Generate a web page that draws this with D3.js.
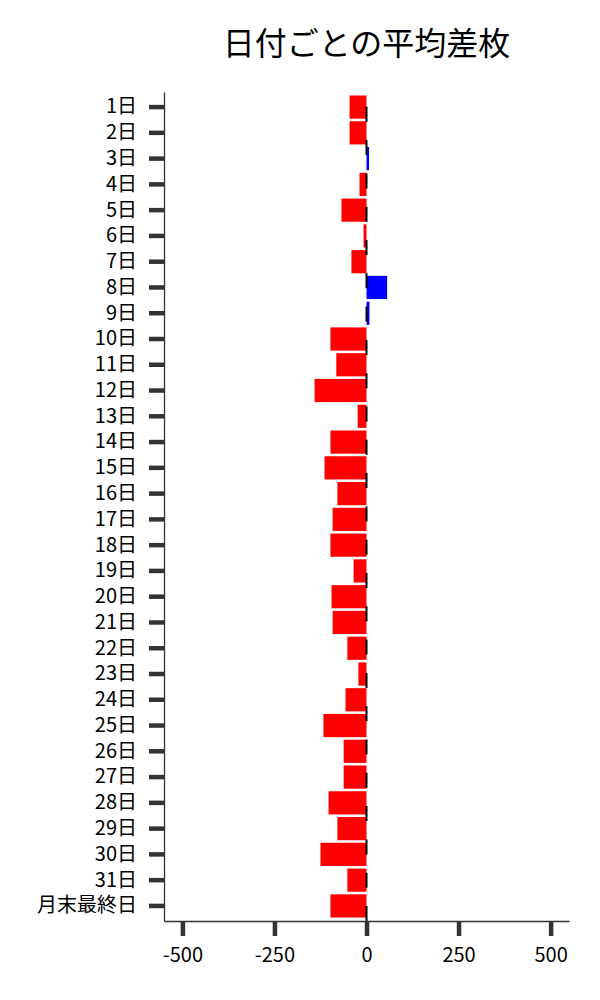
<!DOCTYPE html>
<html>
<head>
<meta charset="utf-8">
<script src="https://cdn.jsdelivr.net/npm/d3@7"></script>
<style>
  body { margin: 0; background: #fff; }
  svg { display: block; font-family: "Noto Sans CJK JP", "Noto Sans", sans-serif; }
</style>
</head>
<body>
<div id="chart"></div>
<script>
const days = ["1日", "2日", "3日", "4日", "5日", "6日", "7日", "8日", "9日", "10日",
  "11日", "12日", "13日", "14日", "15日", "16日", "17日", "18日", "19日", "20日",
  "21日", "22日", "23日", "24日", "25日", "26日", "27日", "28日", "29日", "30日",
  "31日", "月末最終日"];
const avgDiff = [-46, -46, 7, -19, -68, -8, -41, 56, 8, -98,
  -82, -141, -24, -98, -114, -79, -92, -98, -35, -95,
  -92, -52, -22, -57, -117, -62, -62, -103, -79, -125,
  -52, -98];
const xTicks = [-500, -250, 0, 250, 500];
const title = "日付ごとの平均差枚";

const W = 600, H = 1000;
const M = { top: 92, right: 31, bottom: 79, left: 164 };

const svg = d3.select("#chart").append("svg")
  .attr("width", W).attr("height", H);

const x = d3.scaleLinear().domain([-550, 550]).range([M.left, W - M.right]);
const y = d3.scaleBand().domain(days).range([M.top, H - M.bottom])
  .paddingInner(0.1).paddingOuter(0.135);

// bars
svg.append("g").selectAll("rect").data(days).join("rect")
  .attr("x", (d, i) => x(Math.min(0, avgDiff[i])))
  .attr("width", (d, i) => Math.abs(x(avgDiff[i]) - x(0)))
  .attr("y", d => y(d))
  .attr("height", y.bandwidth())
  .attr("fill", (d, i) => avgDiff[i] >= 0 ? "#0000ff" : "#ff0000");

// zero line, dashed, drawn bottom to top
svg.append("path")
  .attr("d", `M${x(0)},${H - M.bottom}V${M.top}`)
  .attr("stroke", "#000").attr("stroke-width", 2)
  .attr("stroke-dasharray", "15,18.3").attr("fill", "none");

// x axis
const xAxis = svg.append("g")
  .attr("transform", `translate(0,${H - M.bottom})`)
  .call(d3.axisBottom(x).tickValues(xTicks).tickFormat(d => String(d))
    .tickSize(15).tickPadding(12).tickSizeOuter(0));
xAxis.select(".domain").attr("stroke", "#333").attr("stroke-width", 1.3);
xAxis.selectAll(".tick line").attr("stroke", "#333").attr("stroke-width", 4.5);
xAxis.selectAll(".tick text").attr("font-size", 20).attr("fill", "#000")
  .attr("font-family", "Noto Sans CJK JP");

// y axis
const yAxis = svg.append("g")
  .attr("transform", `translate(${M.left},0)`)
  .call(d3.axisLeft(y).tickSize(15).tickPadding(12).tickSizeOuter(0));
yAxis.select(".domain").attr("stroke", "#333").attr("stroke-width", 1.3);
yAxis.selectAll(".tick line").attr("stroke", "#333").attr("stroke-width", 4.5);
yAxis.selectAll(".tick text").attr("font-size", 20).attr("fill", "#000")
  .attr("font-family", "Noto Sans CJK JP");

// title
svg.append("text")
  .attr("x", (M.left + W - M.right) / 2).attr("y", 55)
  .attr("text-anchor", "middle").attr("font-size", 32)
  .attr("fill", "#000")
  .text(title);
</script>
</body>
</html>
